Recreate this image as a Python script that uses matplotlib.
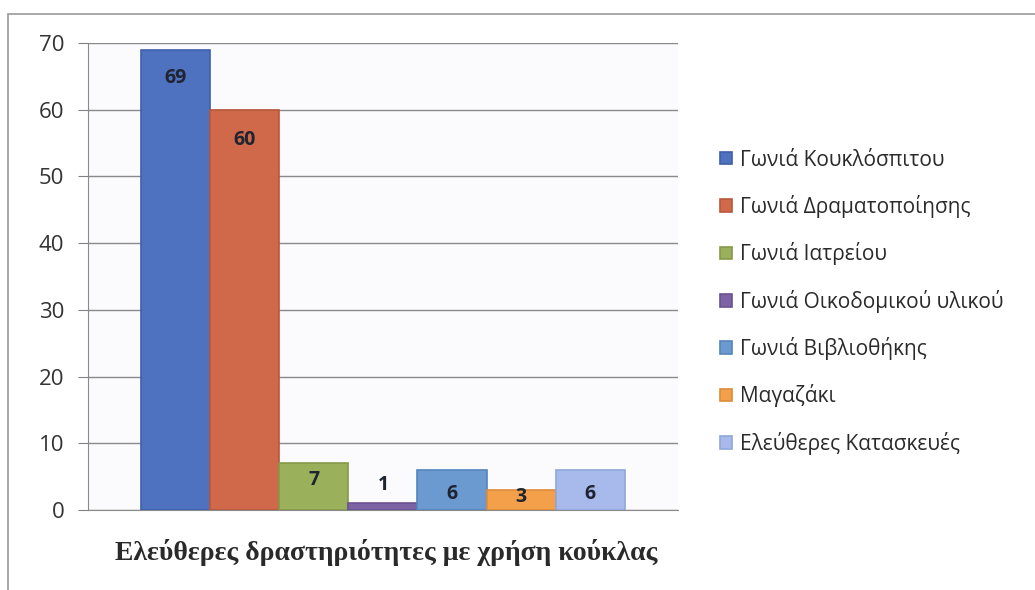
import matplotlib.pyplot as plt
from matplotlib.patches import Rectangle

categories = ['Γωνιά Κουκλόσπιτου', 'Γωνιά Δραματοποίησης', 'Γωνιά Ιατρείου',
              'Γωνιά Οικοδομικού υλικού', 'Γωνιά Βιβλιοθήκης', 'Μαγαζάκι',
              'Ελεύθερες Κατασκευές']
values = [69, 60, 7, 1, 6, 3, 6]
colors = ['#4F72C0', '#D0694A', '#9BB05A', '#7D62A6', '#6A9AD0', '#F4A04A', '#A8BAEC']
edges = ['#3F5FA8', '#B8583C', '#86994A', '#6A5290', '#5585BC', '#DD8C3A', '#90A6DA']
# label offset from bar top, in points
label_offsets = [-20, -22, -12, 13, -17, -5, -17]

fig = plt.figure(figsize=(10.35, 5.9), dpi=100)
ax = fig.add_axes([0.085, 0.1356, 0.57, 0.7914])
ax.set_facecolor('#FBFBFD')

x = [i - 3 for i in range(len(values))]
for xi, v, c, ec, lab, off in zip(x, values, colors, edges, categories, label_offsets):
    ax.bar(xi, v, width=1.0, color=c, edgecolor=ec, linewidth=1.2, label=lab, zorder=3)
    ax.annotate(str(v), (xi, v), xytext=(0, off), textcoords='offset points',
                ha='center', va='center', fontsize=14, fontweight='bold',
                color='#1E2430', family='Open Sans', zorder=4)

ax.set_xlim(-4.27, 4.27)
ax.set_ylim(0, 70)
ax.set_yticks(range(0, 71, 10))
ax.tick_params(axis='y', labelsize=16, length=7, pad=10, color='#808080', labelcolor='#333333')
for lbl in ax.get_yticklabels():
    lbl.set_family('Open Sans')
ax.set_xticks([])
ax.grid(axis='y', color='#8A8A8A', linewidth=1.0, zorder=0)
for s in ['top', 'right']:
    ax.spines[s].set_visible(False)
ax.spines['left'].set_color('#8A8A8A')
ax.spines['bottom'].set_color('#8A8A8A')

leg = ax.legend(loc='center left', bbox_to_anchor=(1.04, 0.445), frameon=False,
                prop={'family': 'Open Sans', 'size': 15}, labelspacing=1.17,
                handlelength=0.55, handleheight=0.55, handletextpad=0.4)
for t in leg.get_texts():
    t.set_color('#2A2A2A')

fig.text(0.373, 0.063, 'Ελεύθερες δραστηριότητες με χρήση κούκλας',
         ha='center', va='center', fontsize=20, fontweight='bold',
         family='Liberation Serif', color='#2A2A2A')

# outer chart frame
fig.patches.append(Rectangle((0.008, -0.05), 1.2, 1.026, transform=fig.transFigure,
                             fill=False, edgecolor='#9A9A9A', linewidth=1.2))

fig.savefig('out.png', dpi=100)
